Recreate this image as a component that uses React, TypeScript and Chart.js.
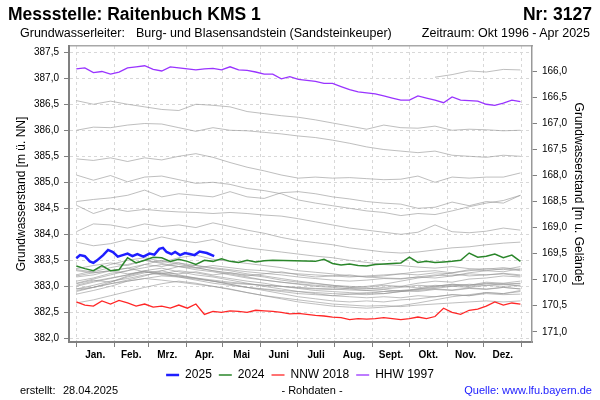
import React, { useEffect, useRef } from 'react';
import { Chart, registerables } from 'chart.js';

Chart.register(...registerables);

// ---- axis / tick definitions ----
const GROUND = 553.127; // Geländehöhe m ü. NN (rechte Achse = Gelände - Wasserstand)
const Y_MIN = 381.93;
const Y_MAX = 387.62;
const X_MIN = -6;
const X_MAX = 373.5;

const monthStarts = [0, 31, 59, 90, 120, 151, 181, 212, 243, 273, 304, 334, 365];
const monthNames = ['Jan.', 'Feb.', 'Mrz.', 'Apr.', 'Mai', 'Juni', 'Juli', 'Aug.', 'Sept.', 'Okt.', 'Nov.', 'Dez.'];
const leftTicks = [382.0, 382.5, 383.0, 383.5, 384.0, 384.5, 385.0, 385.5, 386.0, 386.5, 387.0, 387.5];
const rightTicks = [166.0, 166.5, 167.0, 167.5, 168.0, 168.5, 169.0, 169.5, 170.0, 170.5, 171.0];

// ---- sampling days (day of year) ----
const blueDays = [0, 3, 7, 11, 14, 17, 22, 26, 30, 34, 38, 42, 46, 50, 55, 60, 64, 68, 71, 74, 78, 81, 85, 89, 93, 97, 101, 107, 113];
const weekDays = [0, 7, 14, 21, 28, 35, 42, 49, 56, 63, 70, 77, 84, 91, 98, 105, 112, 119, 126, 133, 140, 147, 154, 161, 168, 175, 182, 189, 196, 203, 210, 217, 224, 231, 238, 245, 252, 259, 266, 273, 280, 287, 294, 301, 308, 315, 322, 329, 336, 343, 350, 357, 364];
const biweekDays = [0, 14, 28, 42, 56, 70, 84, 98, 112, 126, 140, 154, 168, 182, 196, 210, 224, 238, 252, 266, 280, 294, 308, 322, 336, 350, 364];

// ---- highlighted years ----
const y2025 = [383.54, 383.60, 383.58, 383.48, 383.45, 383.50, 383.60, 383.70, 383.66, 383.57, 383.60, 383.63, 383.58, 383.62, 383.57, 383.63, 383.61, 383.72, 383.74, 383.66, 383.62, 383.66, 383.60, 383.64, 383.62, 383.60, 383.67, 383.64, 383.58];
const y2024 = [383.39, 383.34, 383.30, 383.40, 383.30, 383.32, 383.55, 383.45, 383.50, 383.56, 383.55, 383.48, 383.52, 383.48, 383.42, 383.50, 383.48, 383.53, 383.48, 383.46, 383.50, 383.47, 383.49, 383.50, null, null, null, null, 383.48, 383.52, 383.44, 383.41, 383.43, 383.40, 383.39, 383.42, 383.43, 383.44, 383.45, 383.56, 383.46, 383.48, 383.46, 383.47, 383.48, 383.50, 383.64, 383.56, 383.58, 383.62, 383.55, 383.60, 383.48];
const nnw2018 = [382.70, 382.64, 382.62, 382.72, 382.66, 382.73, 382.68, 382.62, 382.66, 382.60, 382.62, 382.58, 382.64, 382.58, 382.66, 382.46, 382.52, 382.50, 382.53, 382.52, 382.50, 382.54, 382.53, 382.52, 382.50, 382.47, 382.48, 382.46, 382.44, 382.43, 382.41, 382.40, 382.36, 382.38, 382.37, 382.38, 382.40, 382.38, 382.36, 382.38, 382.41, 382.38, 382.42, 382.58, 382.50, 382.46, 382.54, 382.56, 382.62, 382.70, 382.64, 382.68, 382.66];
const hhw1997 = [387.18, 387.20, 387.11, 387.13, 387.08, 387.12, 387.20, 387.22, 387.24, 387.17, 387.14, 387.22, 387.20, 387.18, 387.16, 387.18, 387.19, 387.16, 387.22, 387.16, 387.15, 387.12, 387.08, 387.08, 386.99, 387.03, 386.98, 386.96, 386.94, 386.90, 386.90, 386.84, 386.78, 386.74, 386.72, 386.70, 386.66, 386.62, 386.58, 386.58, 386.66, 386.62, 386.58, 386.53, 386.64, 386.58, 386.57, 386.56, 386.50, 386.48, 386.52, 386.58, 386.55];

// ---- other years (bi-weekly, grey) ----
const g1996 = [null, null, null, null, null, null, null, null, null, null, null, null, null, null, null, null, null, null, null, null, null, 387.02, 387.07, 387.14, 387.12, 387.17, 387.16];
const g1998 = [386.57, 386.50, 386.56, 386.50, 386.45, 386.40, 386.38, 386.50, 386.48, 386.45, 386.36, 386.32, 386.28, 386.25, 386.20, 386.14, 386.08, 386.02, 386.10, 386.05, 386.04, 386.08, 386.00, 386.02, 386.01, 385.99, 386.00];
const g1999 = [386.00, 386.06, 386.05, 386.10, 386.13, 386.12, 386.05, 385.98, 386.05, 386.00, 385.99, 385.96, 385.93, 385.89, 385.86, 385.81, 385.75, 385.68, 385.63, 385.60, 385.57, 385.60, 385.52, 385.50, 385.48, 385.52, 385.50];
const g2000 = [385.45, 385.42, 385.47, 385.40, 385.47, 385.43, 385.50, 385.55, 385.48, 385.38, 385.29, 385.22, 385.14, 385.08, 385.10, 385.08, 385.09, 385.07, 385.05, 385.06, 385.12, 385.00, 385.10, 385.08, 385.10, 385.10, 385.18];
const g2001 = [385.14, 385.04, 385.13, 385.01, 385.10, 385.12, 385.05, 384.98, 385.00, 384.96, 384.88, 384.84, 384.78, 384.66, 384.60, 384.55, 384.50, 384.45, 384.42, 384.36, 384.40, 384.38, 384.45, 384.53, 384.60, 384.65, 384.75];
const g2002 = [384.63, 384.67, 384.70, 384.75, 384.85, 384.72, 384.78, 384.75, 384.72, 384.82, 384.72, 384.69, 384.80, 384.82, 384.78, 384.72, 384.68, 384.63, 384.60, 384.58, 384.50, 384.52, 384.62, 384.55, 384.63, 384.60, 384.75];
const g2003 = [384.56, 384.40, 384.50, 384.44, 384.48, 384.45, 384.43, 384.42, 384.40, 384.42, 384.40, 384.37, 384.35, 384.30, 384.24, 384.18, 384.12, 384.08, 384.04, 384.00, 384.04, 384.18, 384.05, 384.03, 384.06, 384.12, 384.08];
const g2004 = [384.05, 384.20, 384.18, 384.12, 384.20, 384.15, 384.18, 384.13, 384.22, 384.15, 384.08, 384.02, 383.94, 383.88, 383.84, 383.80, 383.74, 383.70, 383.66, 383.64, 383.66, 383.70, 383.74, 383.76, 383.80, 383.83, 383.85];
const g2005 = [383.85, 383.78, 383.82, 383.90, 383.86, 383.95, 383.88, 383.84, 383.90, 383.80, 383.74, 383.70, 383.66, 383.62, 383.58, 383.55, 383.50, 383.46, 383.42, 383.40, 383.37, 383.35, 383.38, 383.34, 383.33, 383.36, 383.32];
const g2006 = [383.32, 383.28, 383.36, 383.42, 383.50, 383.46, 383.55, 383.60, 383.52, 383.48, 383.44, 383.40, 383.36, 383.30, 383.27, 383.24, 383.20, 383.18, 383.16, 383.15, 383.18, 383.22, 383.20, 383.26, 383.30, 383.28, 383.34];
const g2007 = [383.34, 383.40, 383.45, 383.40, 383.50, 383.44, 383.38, 383.40, 383.34, 383.30, 383.24, 383.20, 383.15, 383.10, 383.06, 383.02, 383.00, 382.98, 383.02, 383.00, 383.06, 383.10, 383.08, 383.14, 383.16, 383.20, 383.18];
const g2008 = [383.18, 383.22, 383.30, 383.35, 383.42, 383.38, 383.45, 383.36, 383.30, 383.26, 383.22, 383.18, 383.12, 383.08, 383.05, 383.02, 382.98, 382.96, 382.95, 382.98, 383.02, 383.00, 383.04, 383.02, 383.06, 383.04, 383.05];
const g2009 = [383.05, 383.12, 383.08, 383.20, 383.28, 383.24, 383.30, 383.26, 383.20, 383.15, 383.10, 383.06, 383.00, 382.96, 382.92, 382.90, 382.88, 382.86, 382.90, 382.92, 382.95, 383.00, 383.04, 383.02, 383.08, 383.06, 383.10];
const g2010 = [383.10, 383.16, 383.25, 383.30, 383.42, 383.50, 383.45, 383.40, 383.36, 383.32, 383.28, 383.25, 383.22, 383.18, 383.15, 383.12, 383.10, 383.12, 383.15, 383.14, 383.18, 383.16, 383.20, 383.24, 383.22, 383.25, 383.22];
const g2011 = [383.22, 383.30, 383.42, 383.50, 383.55, 383.48, 383.42, 383.36, 383.30, 383.24, 383.18, 383.12, 383.08, 383.04, 383.00, 382.98, 382.95, 382.92, 382.90, 382.92, 382.90, 382.94, 382.92, 382.96, 382.94, 382.98, 382.95];
const g2012 = [382.95, 383.02, 383.10, 383.15, 383.22, 383.25, 383.20, 383.15, 383.10, 383.04, 382.98, 382.92, 382.86, 382.80, 382.76, 382.72, 382.70, 382.72, 382.70, 382.74, 382.76, 382.80, 382.84, 382.82, 382.88, 382.86, 382.92];
const g2013 = [382.92, 382.98, 383.05, 383.12, 383.20, 383.30, 383.38, 383.35, 383.40, 383.36, 383.32, 383.30, 383.26, 383.24, 383.22, 383.20, 383.18, 383.20, 383.22, 383.24, 383.28, 383.30, 383.26, 383.32, 383.30, 383.34, 383.30];
const g2014 = [383.30, 383.26, 383.30, 383.24, 383.28, 383.22, 383.20, 383.16, 383.12, 383.08, 383.05, 383.02, 383.00, 382.97, 382.95, 382.94, 382.96, 382.95, 382.98, 383.00, 382.97, 383.02, 383.00, 383.04, 383.02, 383.05, 383.00];
const g2015 = [383.00, 383.08, 383.15, 383.22, 383.30, 383.35, 383.28, 383.22, 383.18, 383.12, 383.06, 383.00, 382.95, 382.90, 382.86, 382.82, 382.80, 382.78, 382.80, 382.78, 382.82, 382.80, 382.84, 382.82, 382.86, 382.84, 382.85];
const g2016 = [382.85, 382.92, 383.00, 383.10, 383.15, 383.20, 383.18, 383.14, 383.10, 383.06, 383.04, 383.02, 383.00, 382.98, 382.96, 382.95, 382.93, 382.92, 382.94, 382.90, 382.92, 382.95, 382.93, 382.97, 382.95, 382.98, 382.95];
const g2017 = [382.95, 382.98, 383.05, 383.10, 383.15, 383.12, 383.08, 383.04, 383.00, 382.94, 382.88, 382.82, 382.78, 382.74, 382.70, 382.66, 382.64, 382.62, 382.63, 382.61, 382.64, 382.66, 382.68, 382.70, 382.72, 382.70, 382.72];
const g2019 = [382.68, 382.74, 382.82, 382.90, 382.98, 383.05, 383.10, 383.06, 383.00, 382.95, 382.88, 382.82, 382.76, 382.70, 382.66, 382.62, 382.60, 382.58, 382.60, 382.63, 382.68, 382.74, 382.80, 382.84, 382.88, 382.86, 382.90];
const g2020 = [382.90, 382.98, 383.08, 383.18, 383.26, 383.30, 383.22, 383.16, 383.10, 383.04, 382.98, 382.94, 382.90, 382.86, 382.84, 382.82, 382.85, 382.88, 382.86, 382.90, 382.94, 382.96, 383.00, 382.98, 383.02, 383.00, 383.02];
const g2021 = [383.02, 383.10, 383.16, 383.22, 383.30, 383.26, 383.24, 383.28, 383.22, 383.26, 383.20, 383.24, 383.28, 383.22, 383.18, 383.20, 383.22, 383.18, 383.20, 383.24, 383.22, 383.26, 383.24, 383.20, 383.22, 383.24, 383.20];
const g2022 = [383.20, 383.26, 383.30, 383.35, 383.28, 383.24, 383.18, 383.12, 383.06, 383.02, 382.98, 382.95, 382.92, 382.90, 382.88, 382.86, 382.85, 382.84, 382.86, 382.90, 382.95, 382.98, 383.02, 383.00, 383.05, 383.04, 383.06];
const g2023 = [383.06, 383.14, 383.22, 383.30, 383.36, 383.42, 383.38, 383.32, 383.28, 383.22, 383.16, 383.12, 383.08, 383.05, 383.02, 383.00, 382.98, 383.00, 383.04, 383.10, 383.16, 383.20, 383.26, 383.30, 383.34, 383.32, 383.38];

const greyYears: [string, (number | null)[]][] = [
  ['1996', g1996], ['1998', g1998], ['1999', g1999], ['2000', g2000], ['2001', g2001], ['2002', g2002],
  ['2003', g2003], ['2004', g2004], ['2005', g2005], ['2006', g2006], ['2007', g2007], ['2008', g2008],
  ['2009', g2009], ['2010', g2010], ['2011', g2011], ['2012', g2012], ['2013', g2013], ['2014', g2014],
  ['2015', g2015], ['2016', g2016], ['2017', g2017], ['2019', g2019], ['2020', g2020], ['2021', g2021],
  ['2022', g2022], ['2023', g2023],
];

const FONT = "'Liberation Sans', Arial, sans-serif";
const fmt = (v: number) => Number(v).toFixed(1).replace('.', ',');
const monthMids = monthNames.map((_, i) => (monthStarts[i] + monthStarts[i + 1]) / 2);
const xTickValues = [...monthStarts, ...monthMids].sort((a, b) => a - b);

const pts = (days: number[], vals: (number | null)[]) => vals.map((v, i) => ({ x: days[i], y: v }));

export default function App() {
  const ref = useRef<HTMLCanvasElement>(null);

  useEffect(() => {
    if (!ref.current) return;
    const grey = greyYears.map(([label, vals]) => ({
      label,
      data: pts(biweekDays, vals),
      borderColor: 'rgba(150,150,150,0.62)',
      borderWidth: 1,
      pointRadius: 0,
    }));
    const chart = new Chart(ref.current, {
      type: 'line',
      data: {
        datasets: [
          { label: '2025', data: pts(blueDays, y2025), borderColor: '#1e1eff', borderWidth: 2.5, pointRadius: 0 },
          { label: '2024', data: pts(weekDays, y2024), borderColor: '#2a862a', borderWidth: 1.5, pointRadius: 0, spanGaps: true },
          { label: 'NNW 2018', data: pts(weekDays, nnw2018), borderColor: '#ff2626', borderWidth: 1.3, pointRadius: 0 },
          { label: 'HHW 1997', data: pts(weekDays, hhw1997), borderColor: '#9933ff', borderWidth: 1.3, pointRadius: 0 },
          ...grey,
        ] as any,
      },
      options: {
        responsive: false,
        animation: false,
        events: [],
        layout: { padding: { top: 46, bottom: 9, left: 0, right: 0 } },
        plugins: {
          tooltip: { enabled: false },
          legend: {
            position: 'bottom',
            labels: {
              filter: (item: any) => item.datasetIndex < 4,
              usePointStyle: true,
              pointStyle: 'line',
              pointStyleWidth: 13,
              padding: 7,
              color: '#000',
              font: { family: FONT, size: 12 },
            },
          },
        },
        scales: {
          x: {
            type: 'linear',
            position: 'bottom',
            min: X_MIN,
            max: X_MAX,
            afterBuildTicks: (s: any) => { s.ticks = xTickValues.map((v) => ({ value: v })); },
            afterFit: (s: any) => { s.height = 20; },
            ticks: {
              autoSkip: false,
              maxRotation: 0,
              minRotation: 0,
              padding: 2,
              color: '#000',
              font: { family: FONT, size: 10, weight: 'bold' },
              callback: (v: any) => {
                const i = monthMids.indexOf(Number(v));
                return i >= 0 ? monthNames[i] : '';
              },
            },
            grid: {
              color: (c: any) => (c.tick && monthStarts.includes(c.tick.value) ? '#d8d8d8' : 'rgba(0,0,0,0)'),
              tickColor: (c: any) => (c.tick && monthStarts.includes(c.tick.value) ? '#808080' : 'rgba(0,0,0,0)'),
              tickLength: 5,
              lineWidth: 1,
            },
            border: { color: '#808080', width: 2, dash: [3, 3] },
          },
          xTop: {
            type: 'linear',
            position: 'top',
            min: X_MIN,
            max: X_MAX,
            afterFit: (s: any) => { s.height = 0; },
            ticks: { display: false },
            grid: { display: true, drawOnChartArea: false, drawTicks: false },
            border: { color: '#a8a8a8', width: 1.5 },
          },
          y: {
            type: 'linear',
            position: 'left',
            min: Y_MIN,
            max: Y_MAX,
            afterBuildTicks: (s: any) => { s.ticks = leftTicks.map((v) => ({ value: v })); },
            afterFit: (s: any) => { s.width = 69; },
            ticks: { padding: 5, color: '#000', font: { family: FONT, size: 10 }, callback: (v: any) => fmt(v) },
            grid: { color: '#d8d8d8', tickColor: '#808080', tickLength: 5, lineWidth: 1 },
            border: { color: '#808080', width: 2, dash: [3, 3] },
            title: {
              display: true,
              text: 'Grundwasserstand [m ü. NN]',
              color: '#000',
              font: { family: FONT, size: 12 },
              padding: { top: 14, bottom: 0 },
            },
          },
          y2: {
            type: 'linear',
            position: 'right',
            reverse: true,
            min: GROUND - Y_MAX,
            max: GROUND - Y_MIN,
            afterBuildTicks: (s: any) => { s.ticks = rightTicks.map((v) => ({ value: v })); },
            afterFit: (s: any) => { s.width = 68; },
            ticks: { padding: 5, color: '#000', font: { family: FONT, size: 10 }, callback: (v: any) => fmt(v) },
            grid: { drawOnChartArea: false, tickColor: '#808080', tickLength: 5 },
            border: { color: '#999999', width: 1.5 },
            title: {
              display: true,
              text: 'Grundwasserstand [m u. Gelände]',
              color: '#000',
              font: { family: FONT, size: 12 },
              padding: { top: 14, bottom: 0 },
            },
          },
        },
      } as any,
    });
    return () => chart.destroy();
  }, []);

  const abs = (extra: React.CSSProperties): React.CSSProperties => ({ position: 'absolute', whiteSpace: 'pre', ...extra });

  return (
    <div style={{ position: 'absolute', left: 0, top: 0, width: 600, height: 400, background: '#fff', fontFamily: FONT, color: '#000' }}>
      <canvas ref={ref} width={600} height={400} style={{ position: 'absolute', left: 0, top: 0 }} />
      <div style={abs({ left: 8, top: 4, fontSize: 17.5, fontWeight: 'bold', lineHeight: '20px' })}>Messstelle: Raitenbuch KMS 1</div>
      <div style={abs({ right: 8, top: 4, fontSize: 17.5, fontWeight: 'bold', lineHeight: '20px' })}>Nr: 3127</div>
      <div style={abs({ left: 20, top: 26, fontSize: 12.5, lineHeight: '14px' })}>Grundwasserleiter:</div>
      <div style={abs({ left: 136, top: 26, fontSize: 12.5, lineHeight: '14px' })}>Burg- und Blasensandstein (Sandsteinkeuper)</div>
      <div style={abs({ right: 10, top: 26, fontSize: 12.5, lineHeight: '14px' })}>Zeitraum: Okt 1996 - Apr 2025</div>
      <div style={abs({ left: 20, top: 384, fontSize: 11, lineHeight: '13px' })}>erstellt:</div>
      <div style={abs({ left: 63, top: 384, fontSize: 11, lineHeight: '13px' })}>28.04.2025</div>
      <div style={abs({ left: 312, top: 384, fontSize: 11, lineHeight: '13px', transform: 'translateX(-50%)' })}>- Rohdaten -</div>
      <div style={abs({ right: 8, top: 384, fontSize: 11, lineHeight: '13px', color: '#1a1aff' })}>Quelle: www.lfu.bayern.de</div>
    </div>
  );
}
